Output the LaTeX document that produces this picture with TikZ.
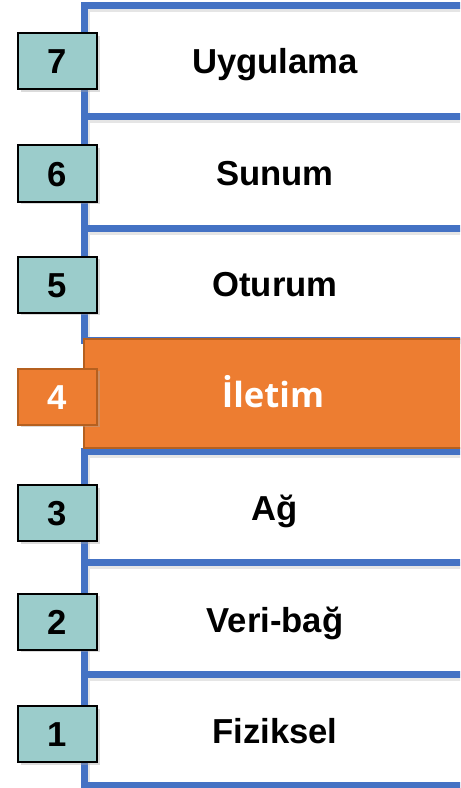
\documentclass[tikz,border=0pt]{standalone}
\usepackage{fontspec}
\setmainfont{Liberation Sans}
\newfontfamily\iletimfont{Open Sans}
\usepackage{xcolor}
\usetikzlibrary{shadows}

\definecolor{katmavi}{HTML}{4472C4}
\definecolor{kutuyesil}{HTML}{9BCCCB}
\definecolor{turuncu}{HTML}{ED7D31}
\definecolor{koyuturuncu}{HTML}{B5601F}

\begin{document}
\begin{tikzpicture}[x=0.75pt,y=-0.75pt,
  katman/.style={draw=katmavi,line width=5.25pt},
  katmangolge/.style={draw=black!10,line width=5.25pt},
  numara/.style={draw=black,line width=1.5pt,fill=kutuyesil,
    minimum width=59.25pt,minimum height=42pt,inner sep=0pt,
    text height=18.8pt,text depth=0pt,
    font=\fontsize{26}{30}\selectfont\bfseries,
    drop shadow={shadow xshift=2.2pt,shadow yshift=-2.2pt,fill=black!35,opacity=.4}},
  etiket/.style={inner sep=0pt,text height=18.8pt,text depth=0pt,
    font=\fontsize{26}{30}\selectfont\bfseries}]
\useasboundingbox (0,0) rectangle (460,788);
\clip (0,0) rectangle (460,788);

% layer frames: shadows first
\draw[katmangolge](86.5,8.5)rectangle(490,120)
(86.5,120)rectangle(490,231.5)
(86.5,231.5)rectangle(490,343)
(86.5,454)rectangle(490,565.5)
(86.5,565.5)rectangle(490,677)
(86.5,677)rectangle(490,788);
\draw[katman](84,5.5)rectangle(490,117)
(84,117)rectangle(490,228.5)
(84,228.5)rectangle(490,340)
(84,451)rectangle(490,562.5)
(84,562.5)rectangle(490,674)
(84,674)rectangle(490,785);

% active layer
\draw[fill=turuncu,draw=koyuturuncu,line width=1.5pt](83.5,338.5)rectangle(490,448);

% layer names
\node[etiket](uygulama) at (275,61.25){Uygulama};
\node[etiket](sunum) at (275,172.75){Sunum};
\node[etiket](oturum) at (275,284.25){Oturum};
\node[etiket,text=white,font=\iletimfont\fontsize{26}{30}\selectfont\bfseries](iletim) at (273,395){İletim};
\node[etiket](ag) at (275,508){Ağ};
\node[etiket](veribag) at (275,619.5){Veri-bağ};
\node[etiket](fiziksel) at (275,730.5){Fiziksel};

% layer numbers
\node[numara](n7) at (57.5,61){7};
\node[numara](n6) at (57.5,173.5){6};
\node[numara](n5) at (57.5,284.5){5};
\node[numara,fill=turuncu,draw=koyuturuncu,text=white,drop shadow={opacity=0}](n4) at (57.5,396.5){4};
\node[numara](n3) at (57.5,513){3};
\node[numara](n2) at (57.5,621.5){2};
\node[numara](n1) at (57.5,734){1};
\end{tikzpicture}
\end{document}
